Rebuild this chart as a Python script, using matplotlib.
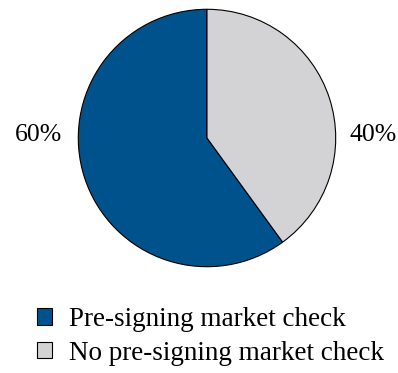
import matplotlib.pyplot as plt

plt.rcParams['font.family'] = ['Liberation Serif', 'DejaVu Serif']

labels = ["Pre-signing market check", "No pre-signing market check"]
shares = [60, 40]
colors = ["#00528c", "#d3d3d5"]
pct_labels = ["60%", "40%"]

fig = plt.figure(figsize=(3.98, 3.73), dpi=100)
ax = fig.add_axes([77 / 398, 105 / 373, 260 / 398, 260 / 373])

wedges, _ = ax.pie(shares, colors=colors, startangle=90, counterclock=True,
                   radius=1.0, wedgeprops=dict(edgecolor="black", linewidth=0.8))
ax.set_xlim(-1.01, 1.01)
ax.set_ylim(-1.01, 1.01)
ax.set_aspect("equal")
ax.axis("off")

# percentage labels either side of the pie
fig.text(38 / 398, 1 - 135 / 373, pct_labels[0], ha="center", va="center", fontsize=18.5)
fig.text(373 / 398, 1 - 135 / 373, pct_labels[1], ha="center", va="center", fontsize=18.5)

fig.legend(wedges, labels, loc="upper left", bbox_to_anchor=(37 / 398, 1 - 307 / 373),
           frameon=False, fontsize=19.5, handlelength=0.55, handleheight=0.55,
           handletextpad=0.62, labelspacing=0.32, borderaxespad=0, borderpad=0)

fig.savefig("out.png", dpi=100)
